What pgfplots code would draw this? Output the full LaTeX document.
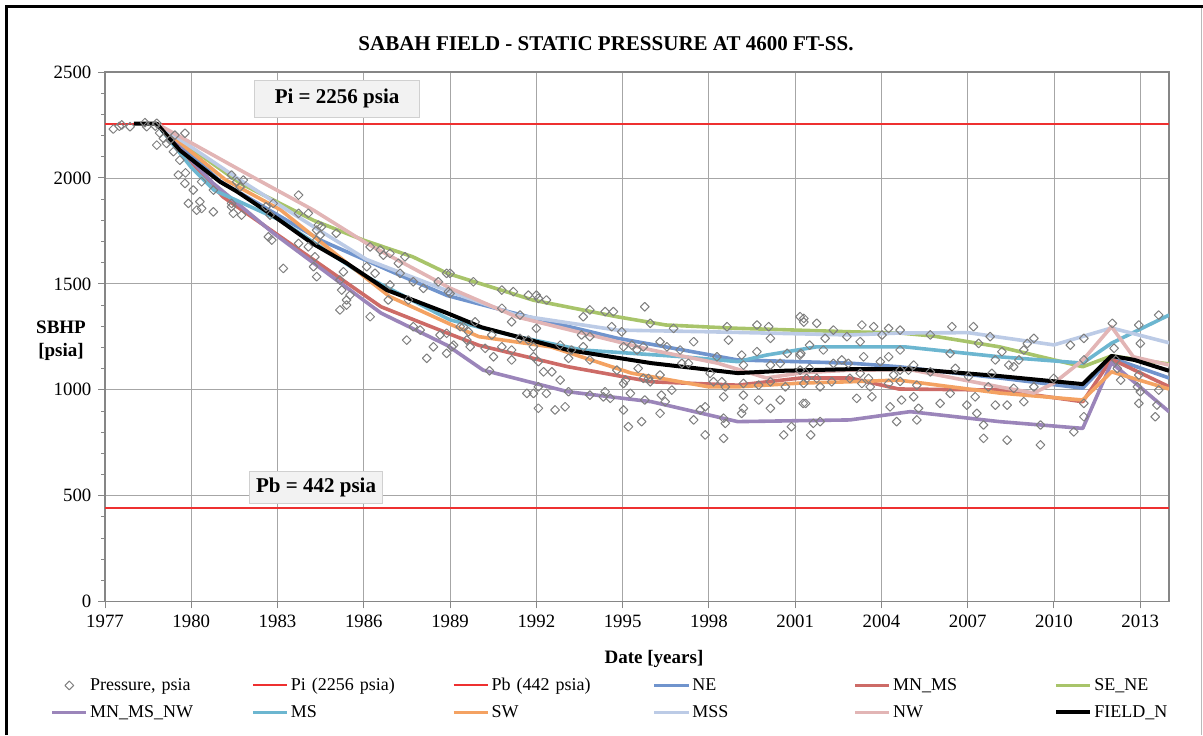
\documentclass[border=0pt]{standalone}
\usepackage{fontspec}
\setmainfont{Liberation Serif}
\usepackage{pgfplots}
\pgfplotsset{compat=1.18}
\usepackage{pgfplotstable}

\definecolor{gridgray}{HTML}{A6A6A6}
\definecolor{axisgray}{HTML}{868686}
\definecolor{ptgray}{HTML}{7F7F7F}
\definecolor{refred}{HTML}{EE3030}
\definecolor{cNE}{HTML}{7094CD}
\definecolor{cMNMS}{HTML}{CD6B67}
\definecolor{cSENE}{HTML}{A8C46A}
\definecolor{cMNMSNW}{HTML}{9B85BA}
\definecolor{cMS}{HTML}{6CB6D0}
\definecolor{cSW}{HTML}{F4A262}
\definecolor{cMSS}{HTML}{BCCBE6}
\definecolor{cNW}{HTML}{E2B5B5}
\definecolor{boxfill}{HTML}{F2F2F2}
\definecolor{boxdraw}{HTML}{D0D0D0}

% static pressure measurements (year, psia)
\pgfplotstableread{
yr p
1977.29 2231
1977.50 2244
1977.58 2250
1977.87 2242
1978.39 2261
1978.45 2242
1978.80 2258
1978.75 2245
1978.80 2155
1978.90 2212
1979.03 2187
1979.14 2163
1979.26 2179
1979.43 2202
1979.78 2211
1979.38 2124
1979.60 2084
1979.55 2014
1979.80 2024
1979.78 1974
1980.07 1943
1979.90 1880
1980.30 1888
1980.19 1848
1980.36 1856
1980.77 1840
1980.77 1943
1980.36 1982
1981.40 2014
1981.58 1982
1981.81 1990
1981.70 1958
1981.40 1880
1981.46 1833
1981.75 1825
1981.40 1864
1982.60 1864
1982.74 1825
1982.85 1880
1982.68 1722
1982.80 1707
1983.20 1573
1983.73 1919
1983.73 1833
1984.07 1833
1983.73 1691
1984.07 1675
1984.30 1628
1984.25 1581
1984.36 1534
1984.42 1778
1984.53 1770
1984.36 1754
1984.48 1730
1984.36 1707
1985.04 1739
1985.29 1557
1985.17 1518
1985.23 1471
1985.40 1424
1985.52 1447
1985.17 1377
1985.40 1400
1986.22 1675
1986.57 1660
1986.68 1636
1986.91 1644
1986.10 1581
1986.39 1550
1986.22 1345
1987.20 1597
1986.91 1495
1986.85 1424
1987.43 1628
1987.26 1550
1987.72 1510
1988.07 1479
1987.55 1424
1987.49 1235
1987.72 1298
1987.96 1282
1988.19 1149
1988.42 1203
1988.59 1510
1988.65 1259
1988.88 1550
1988.94 1463
1988.88 1267
1988.88 1172
1989.06 1203
1989.46 1298
1989.58 1235
1989.70 1203
1989.81 1510
1989.87 1321
1989.00 1550
1989.00 1455
1989.35 1298
1989.64 1274
1989.12 1211
1990.22 1196
1990.51 1156
1990.37 1090
1990.45 1259
1990.80 1471
1990.80 1385
1991.20 1463
1991.14 1321
1990.80 1203
1991.14 1188
1991.14 1141
1991.43 1353
1991.43 1243
1991.72 1447
1992.00 1447
1992.07 1432
1992.35 1424
1992.00 1290
1991.90 1203
1991.72 1235
1991.90 1156
1992.07 1133
1991.67 983
1991.90 983
1992.07 1014
1992.35 983
1992.07 913
1992.65 905
1993.00 920
1992.25 1085
1992.54 1085
1992.83 1046
1993.12 991
1993.12 1149
1992.83 1211
1993.22 1188
1993.63 1345
1993.86 1377
1994.39 1369
1994.68 1369
1994.62 1298
1993.57 1259
1993.86 1251
1993.63 1203
1993.86 1141
1993.86 975
1994.39 991
1994.33 967
1994.57 960
1994.97 1274
1995.32 1211
1995.03 1203
1994.80 1093
1995.10 1046
1995.03 1030
1995.03 905
1995.27 983
1995.20 826
1995.77 1392
1995.96 1314
1995.72 1203
1995.50 1188
1995.54 1101
1995.72 1054
1995.90 1054
1995.96 1038
1995.66 850
1995.77 952
1996.30 1227
1996.54 1203
1996.30 1070
1996.30 889
1996.35 975
1996.48 944
1996.71 999
1996.77 1290
1997.00 1188
1997.06 1125
1997.29 1125
1997.47 1227
1997.47 858
1997.70 905
1997.87 920
1997.87 787
1998.04 1078
1998.16 1038
1998.28 1156
1998.45 1038
1998.51 967
1998.57 1014
1998.63 1298
1998.68 1235
1998.51 866
1998.57 842
1998.51 771
1999.14 1164
1999.20 1117
1999.20 1030
1999.20 975
1999.20 913
1999.14 889
1999.67 1306
1999.67 1180
1999.73 1022
1999.73 952
2000.08 1298
2000.14 1243
2000.14 1117
2000.14 1038
2000.14 913
2000.48 1125
2000.48 952
2000.60 787
2000.66 1014
2000.72 1172
2000.87 826
2001.17 1345
2001.17 1164
2001.17 1093
2001.28 936
2001.40 1054
2001.54 787
2001.63 842
2001.75 1314
2001.87 1014
2001.87 850
2001.98 1188
2002.33 1282
2002.33 1125
2002.80 1251
2002.85 1125
2002.90 1054
2001.30 1337
2001.30 1320
2001.20 1172
2001.50 1211
2001.50 1101
2001.30 1030
2001.36 936
2001.75 1054
2002.04 1243
2002.27 1038
2002.62 1141
2003.14 960
2003.32 1306
2003.26 1227
2003.26 1078
2003.32 1030
2003.38 1156
2003.55 1054
2003.61 1014
2003.67 967
2003.73 1298
2003.96 1133
2004.02 1259
2004.25 1290
2004.25 1156
2004.25 1030
2004.30 920
2004.42 1070
2004.53 850
2004.65 1282
2004.65 1188
2004.65 1093
2004.65 1040
2004.70 952
2004.94 1093
2005.12 1117
2005.12 967
2005.23 1022
2005.29 913
2005.23 858
2005.70 1085
2005.70 1259
2006.04 936
2006.39 1172
2006.45 1298
2006.39 983
2006.57 1101
2006.97 928
2007.03 1062
2007.20 1298
2007.26 967
2007.32 889
2007.38 1219
2007.55 834
2007.55 771
2007.72 1014
2007.78 1251
2007.84 1078
2007.96 1141
2007.96 928
2008.19 1180
2008.37 928
2008.37 763
2008.43 1117
2008.60 1109
2008.60 1007
2008.78 1141
2008.95 1188
2009.07 1219
2009.30 1243
2008.95 944
2009.30 1014
2009.53 834
2009.53 740
2009.99 1054
2010.57 1211
2010.69 802
2011.04 1243
2011.04 1141
2011.04 936
2011.04 873
2012.03 1314
2012.09 1196
2012.15 1141
2012.20 1101
2012.32 1046
2012.95 1306
2013.00 1219
2012.95 1070
2012.90 1014
2013.00 991
2012.95 936
2013.52 873
2013.58 928
2013.64 999
2013.64 1353
}\pressure

\pgfplotstableread{
yr p
1978.8 2256
1981.0 1985
1984.5 1706
1987.1 1550
1988.9 1445
1991.0 1370
1991.9 1339
1994.8 1244
1997.1 1188
1999.0 1141
2002.9 1126
2004.6 1109
2008.1 1056
2011.0 1008
2012.0 1150
2014.0 1056
}\seNE

\pgfplotstableread{
yr p
1978.8 2256
1981.1 1911
1982.85 1746
1986.6 1392
1988.9 1268
1990.0 1210
1993.1 1109
1996.0 1038
1999.0 1022
2001.2 1056
2002.9 1056
2004.6 1004
2008.1 999
2011.0 944
2012.0 1145
2014.0 1015
}\seMNMS

\pgfplotstableread{
yr p
1978.8 2256
1981.7 1975
1984.25 1800
1986.0 1706
1987.7 1628
1988.9 1550
1991.9 1423
1994.8 1345
1996.5 1306
1998.85 1291
2002.9 1274
2004.65 1268
2005.8 1254
2008.1 1203
2011.0 1109
2012.0 1160
2014.0 1122
}\seSENE

\pgfplotstableread{
yr p
1978.8 2256
1980.76 1975
1982.85 1740
1986.6 1362
1988.9 1210
1990.15 1093
1993.1 991
1996.0 944
1999.0 850
2002.9 858
2005.0 897
2008.1 850
2011.0 818
2012.0 1128
2014.0 897
}\seMNMSNW

\pgfplotstableread{
yr p
1978.8 2256
1980.0 2050
1980.8 1942
1983.1 1800
1986.0 1540
1989.0 1330
1991.3 1252
1993.6 1188
1997.1 1156
1999.0 1133
2000.0 1164
2001.75 1203
2004.8 1203
2008.1 1156
2011.0 1126
2012.0 1220
2014.0 1353
}\seMS

\pgfplotstableread{
yr p
1978.8 2256
1981.2 1990
1983.1 1850
1985.4 1600
1986.9 1440
1989.0 1310
1990.0 1251
1992.5 1203
1995.3 1079
1998.0 1014
1999.0 1014
2001.2 1032
2002.9 1038
2004.6 1046
2008.1 985
2011.0 952
2012.0 1085
2014.0 1004
}\seSW

\pgfplotstableread{
yr p
1978.8 2256
1981.7 1990
1984.25 1770
1986.1 1615
1989.0 1463
1991.3 1353
1994.8 1282
1998.0 1274
2002.9 1259
2004.6 1268
2007.0 1270
2010.0 1212
2012.0 1292
2014.0 1222
}\seMSS

\pgfplotstableread{
yr p
1978.8 2256
1981.7 2037
1984.25 1848
1986.1 1691
1989.0 1480
1991.3 1345
1993.6 1268
1996.0 1188
1998.3 1126
2000.0 1056
2001.2 1080
2002.9 1093
2005.0 1095
2008.1 1014
2009.3 985
2010.0 1032
2011.0 1140
2012.0 1298
2012.76 1156
2014.0 1117
}\seNW

\pgfplotstableread{
yr p
1978.0 2256
1978.8 2256
1979.6 2131
1981.0 1982
1981.6 1935
1982.9 1817
1984.2 1692
1985.4 1598
1986.8 1471
1988.9 1362
1990.1 1295
1993.1 1188
1996.0 1126
1999.0 1079
2000.6 1090
2003.0 1098
2005.1 1098
2008.1 1065
2011.0 1027
2012.0 1160
2012.8 1141
2014.0 1090
}\seFIELD

\begin{document}
\begin{tikzpicture}
\useasboundingbox (0pt,0pt) rectangle (601.5pt,-367.5pt);
% chart frame
\draw[black, line width=1.3pt] (3.3pt,-367.5pt) -- (3.3pt,-3.1pt) -- (601.5pt,-3.1pt);
\draw[gray!55, line width=0.5pt] (600.6pt,-3.8pt) -- (600.6pt,-367.5pt);

\node[font=\rmfamily\bfseries\fontsize{10.5}{12}\selectfont] at (303pt,-22pt)
  {SABAH FIELD - STATIC PRESSURE AT 4600 FT-SS.};
\node[font=\rmfamily\bfseries\fontsize{9.5}{11.5}\selectfont, align=center] at (30.5pt,-170.5pt)
  {SBHP\\{[psia]}};
\node[font=\rmfamily\bfseries\fontsize{9.5}{11.5}\selectfont] at (327pt,-329.5pt) {Date [years]};

\begin{axis}[
  at={(52.5pt,-300.85pt)}, anchor=south west,
  scale only axis, width=532pt, height=264.85pt,
  xmin=1977, xmax=2014, ymin=0, ymax=2500,
  xtick={1977,1980,...,2013}, minor x tick num=4,
  ytick={0,500,...,2500}, minor y tick num=4,
  /pgf/number format/.cd, 1000 sep={}, assume math mode=true, /pgfplots/.cd,
  ticklabel style={font=\rmfamily\fontsize{9.4}{11}\selectfont},
  grid=major,
  major grid style={draw=gridgray, line width=0.45pt},
  axis line style={draw=axisgray, line width=0.6pt},
  tick style={draw=axisgray, line width=0.5pt},
  tick align=outside, tick pos=left,
  major tick length=3.3pt, minor tick length=2pt,
  legend columns=6,
  legend cell align=left,
  legend style={
    at={(-0.0517,-0.1384)}, anchor=north west,
    draw=none, fill=none,
    font=\rmfamily\fontsize{9}{10.5}\selectfont,
    inner sep=0pt, row sep=3.5pt, column sep=0pt,
    nodes={text width=77.5pt, inner xsep=1pt, inner ysep=0.5pt, text height=7pt, text depth=2pt},
    /tikz/every even column/.append style={column sep=2pt},
  },
  every axis plot/.append style={line join=round},
]
\addplot[only marks, mark=square, mark size=1.55pt, draw=ptgray, line width=0.5pt,
  every mark/.append style={rotate=45}] table[x=yr, y=p] {\pressure};
\addlegendentry{Pressure, psia}
\addplot[refred, line width=1pt] coordinates {(1977,2256) (2014,2256)};
\addlegendentry{Pi (2256 psia)}
\addplot[refred, line width=1pt] coordinates {(1977,442) (2014,442)};
\addlegendentry{Pb (442 psia)}
\addplot[cNE, line width=1.8pt] table[x=yr, y=p] {\seNE};
\addlegendentry{NE}
\addplot[cMNMS, line width=1.8pt] table[x=yr, y=p] {\seMNMS};
\addlegendentry{MN\_MS}
\addplot[cSENE, line width=1.8pt] table[x=yr, y=p] {\seSENE};
\addlegendentry{SE\_NE}
\addplot[cMNMSNW, line width=1.8pt] table[x=yr, y=p] {\seMNMSNW};
\addlegendentry{MN\_MS\_NW}
\addplot[cMS, line width=1.8pt] table[x=yr, y=p] {\seMS};
\addlegendentry{MS}
\addplot[cSW, line width=1.8pt] table[x=yr, y=p] {\seSW};
\addlegendentry{SW}
\addplot[cMSS, line width=1.8pt] table[x=yr, y=p] {\seMSS};
\addlegendentry{MSS}
\addplot[cNW, line width=1.8pt] table[x=yr, y=p] {\seNW};
\addlegendentry{NW}
\addplot[black, line width=2pt] table[x=yr, y=p] {\seFIELD};
\addlegendentry{FIELD\_N}

\node[fill=boxfill, draw=boxdraw, line width=0.4pt, minimum width=82.5pt, minimum height=18.5pt,
  font=\rmfamily\bfseries\fontsize{10.5}{12}\selectfont] at (axis cs:1985.07,2375) {Pi = 2256 psia};
\node[fill=boxfill, draw=boxdraw, line width=0.4pt, minimum width=65pt, minimum height=15.5pt,
  font=\rmfamily\bfseries\fontsize{10.5}{12}\selectfont] at (axis cs:1984.34,539) {Pb = 442 psia};
\end{axis}
\end{tikzpicture}
\end{document}
